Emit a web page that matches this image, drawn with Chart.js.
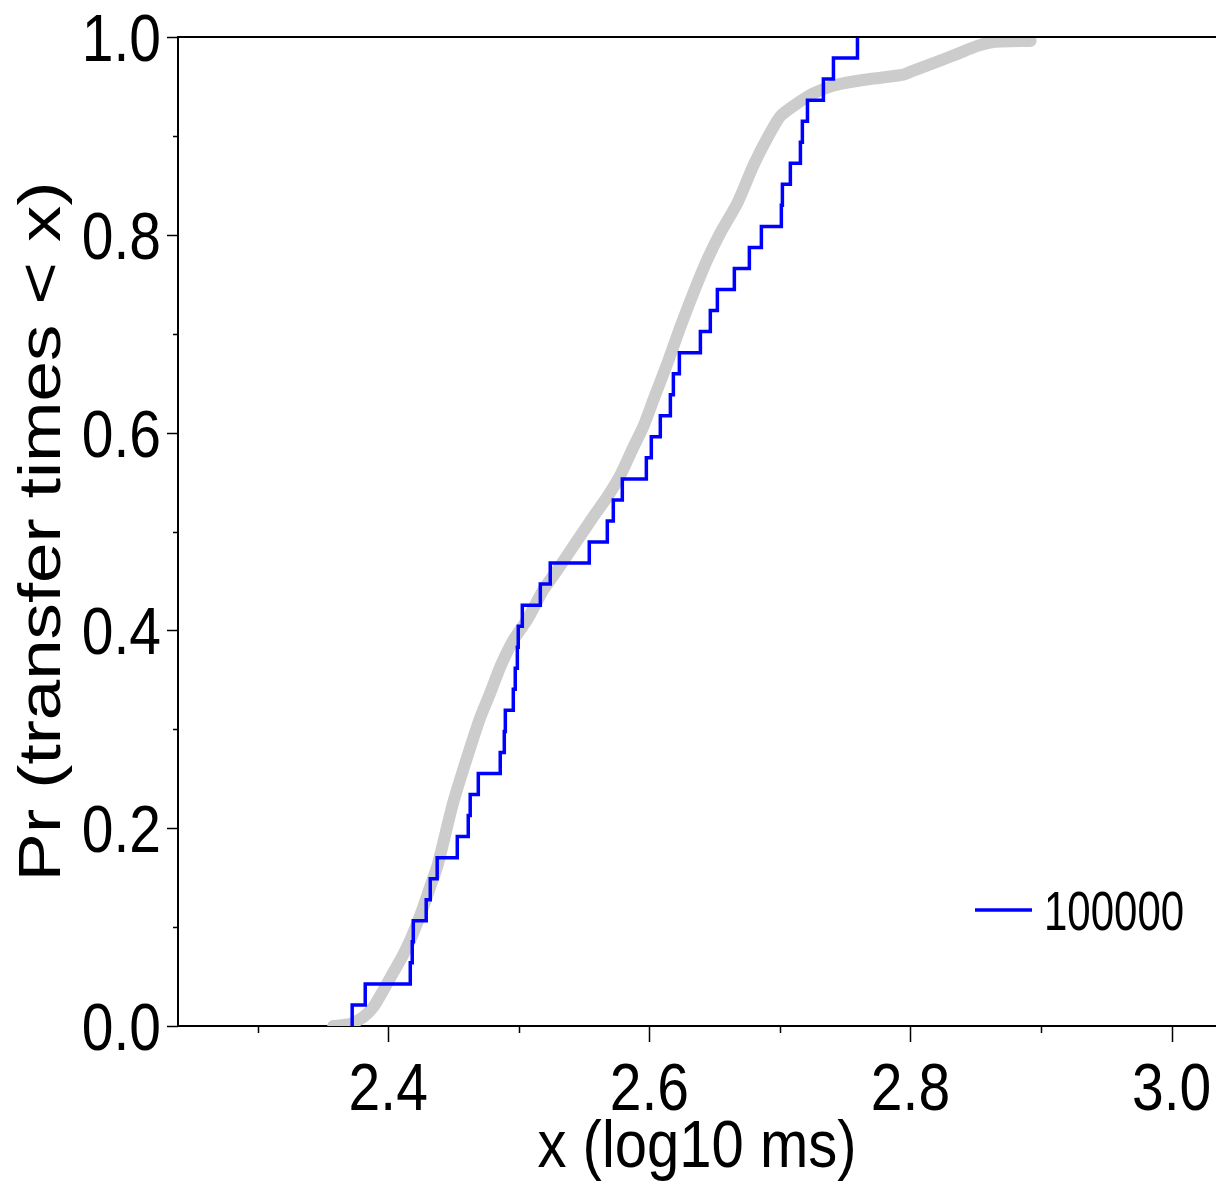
<!DOCTYPE html>
<html lang="fr">
<head>
<meta charset="utf-8">
<title>Pr (transfer times &lt; x)</title>
<script src="https://cdn.jsdelivr.net/npm/chart.js@4.4.0/dist/chart.umd.min.js"></script>
<style>
    html, body { margin: 0; padding: 0; background: #ffffff; }
    #wrap { width: 1216px; height: 1182px; }
</style>
</head>
<body>
<div id="wrap"><canvas id="cdfChart" width="1216" height="1182"></canvas></div>
<script>
// Échantillon "100000" (log10 ms), valeurs triées
const blueSample = [
    2.3724, 2.3824, 2.4169, 2.4184, 2.4192, 2.4291, 2.4322, 2.4375, 2.4529, 2.4613,
    2.4628, 2.4690, 2.4858, 2.4889, 2.4897, 2.4958, 2.4973, 2.4989, 2.4996, 2.5027,
    2.5165, 2.5241, 2.5540, 2.5678, 2.5724, 2.5793, 2.5977, 2.6015, 2.6084, 2.6161,
    2.6184, 2.6230, 2.6391, 2.6467, 2.6521, 2.6651, 2.6766, 2.6858, 2.7011, 2.7019,
    2.7080, 2.7157, 2.7172, 2.7211, 2.7333, 2.7410, 2.7594
];

// Courbe grise de référence
const greyX = [
    2.3579, 2.3709, 2.3808, 2.3885, 2.3962, 2.4038, 2.4107, 2.4169, 2.4222, 2.4268,
    2.4322, 2.4375, 2.4421, 2.4498, 2.4605, 2.4705, 2.4782, 2.4858, 2.4958, 2.5065,
    2.5188, 2.5295, 2.5448, 2.5571, 2.5678, 2.5778, 2.5877, 2.5954, 2.6031, 2.6138,
    2.6238, 2.6337, 2.6444, 2.6544, 2.6674, 2.6797, 2.6904, 2.7004, 2.7134, 2.7257,
    2.7410, 2.7563, 2.7716, 2.7946, 2.8023, 2.8207, 2.8360, 2.8513, 2.8636, 2.8920
];
const greyY = [
    0.000, 0.002, 0.009, 0.019, 0.036, 0.054, 0.070, 0.087, 0.104, 0.120,
    0.141, 0.161, 0.185, 0.226, 0.272, 0.312, 0.337, 0.363, 0.390, 0.411,
    0.441, 0.461, 0.491, 0.515, 0.535, 0.557, 0.585, 0.606, 0.633, 0.670,
    0.707, 0.741, 0.775, 0.802, 0.832, 0.870, 0.898, 0.920, 0.933, 0.943,
    0.951, 0.955, 0.958, 0.962, 0.966, 0.975, 0.983, 0.991, 0.995, 0.996
];

const xMajorTicks = [2.4, 2.6, 2.8, 3.0];
const xMinorTicks = [2.3, 2.5, 2.7, 2.9];
const xTickLabels = ['2.4', '2.6', '2.8', '3.0'];
const yMajorTicks = [0, 0.2, 0.4, 0.6, 0.8, 1.0];
const yMinorTicks = [0.1, 0.3, 0.5, 0.7, 0.9];
const yTickLabels = ['0.0', '0.2', '0.4', '0.6', '0.8', '1.0'];
const legendLabel = '100000';
const xTitle = 'x (log10 ms)';
const yTitle = 'Pr (transfer times < x)';

const FONT = '"Liberation Sans", Arial, sans-serif';

/**
 * Texte étiré (le graphique d'origine a des caractères plus hauts que larges)
 */
function drawText(ctx, text, x, y, size, sx, sy, align, rotate) {
    ctx.save();
    ctx.translate(x, y);
    if (rotate) {
        ctx.rotate(rotate);
    }
    ctx.scale(sx, sy);
    ctx.font = `${size}px ${FONT}`;
    ctx.textAlign = align;
    ctx.textBaseline = 'alphabetic';
    ctx.fillStyle = '#000000';
    ctx.fillText(text, 0, 0);
    ctx.restore();
}

// Points de la fonction de répartition en escalier
const bluePoints = [{ x: blueSample[0], y: 0 }];
blueSample.forEach((v, i) => {
    bluePoints.push({ x: v, y: (i + 1) / blueSample.length });
});
const greyPoints = greyX.map((v, i) => ({ x: v, y: greyY[i] }));

// Graduations, titres et légende
const decorPlugin = {
    id: 'decor',
    afterDraw(chart) {
        const { ctx, chartArea, scales } = chart;
        const xs = scales.x;
        const ys = scales.y;
        ctx.save();
        ctx.strokeStyle = '#000000';
        ctx.lineWidth = 2;

        // Ligne du haut
        ctx.beginPath();
        ctx.moveTo(chartArea.left, chartArea.top);
        ctx.lineTo(chartArea.right, chartArea.top);
        ctx.stroke();

        ctx.beginPath();
        for (const v of xMajorTicks) {
            const px = Math.round(xs.getPixelForValue(v)) + 0.5;
            ctx.moveTo(px, chartArea.bottom);
            ctx.lineTo(px, chartArea.bottom + 16);
        }
        for (const v of xMinorTicks) {
            const px = Math.round(xs.getPixelForValue(v)) + 0.5;
            ctx.moveTo(px, chartArea.bottom);
            ctx.lineTo(px, chartArea.bottom + 7);
        }
        for (const v of yMajorTicks) {
            const py = Math.round(ys.getPixelForValue(v)) + 0.5;
            ctx.moveTo(chartArea.left, py);
            ctx.lineTo(chartArea.left - 11, py);
        }
        for (const v of yMinorTicks) {
            const py = Math.round(ys.getPixelForValue(v)) + 0.5;
            ctx.moveTo(chartArea.left, py);
            ctx.lineTo(chartArea.left - 5, py);
        }
        ctx.lineWidth = 1.5;
        ctx.stroke();

        // Étiquettes des graduations
        xMajorTicks.forEach((v, i) => {
            drawText(ctx, xTickLabels[i], xs.getPixelForValue(v), 1110, 57, 1, 1.17, 'center');
        });
        yMajorTicks.forEach((v, i) => {
            drawText(ctx, yTickLabels[i], 161, ys.getPixelForValue(v) + 24, 57, 1, 1.17, 'right');
        });

        // Titres des axes
        drawText(ctx, xTitle, (chartArea.left + chartArea.right) / 2, 1167, 58, 1, 1.16, 'center');
        drawText(ctx, yTitle, 60, (chartArea.top + chartArea.bottom) / 2, 60, 1.21, 1, 'center', -Math.PI / 2);

        // Légende
        const ds = chart.data.datasets[0];
        const lx = chartArea.right - 241;
        const ly = chartArea.bottom - 116;
        ctx.strokeStyle = ds.borderColor;
        ctx.lineWidth = ds.borderWidth;
        ctx.beginPath();
        ctx.moveTo(lx, ly);
        ctx.lineTo(lx + 57, ly);
        ctx.stroke();
        drawText(ctx, legendLabel, lx + 69, ly + 20, 42, 1, 1.3, 'left');
        ctx.restore();
    }
};

const ctx = document.getElementById('cdfChart').getContext('2d');
new Chart(ctx, {
    type: 'line',
    data: {
        datasets: [
            {
                label: legendLabel,
                data: bluePoints,
                borderColor: '#0000ff',
                borderWidth: 3.5,
                stepped: true,
                pointRadius: 0,
                fill: false,
                order: 0
            },
            {
                label: 'reference',
                data: greyPoints,
                borderColor: '#cccccc',
                borderWidth: 12,
                borderCapStyle: 'round',
                borderJoinStyle: 'round',
                tension: 0.2,
                pointRadius: 0,
                fill: false,
                order: 1
            }
        ]
    },
    options: {
        responsive: false,
        animation: false,
        events: [],
        layout: { padding: { top: 37, right: 0, left: 0, bottom: 0 } },
        plugins: {
            legend: { display: false },
            tooltip: { enabled: false }
        },
        scales: {
            x: {
                type: 'linear',
                min: 2.239,
                max: 3.034,
                grid: { display: false },
                ticks: { display: false },
                border: { display: true, color: '#000000', width: 2 },
                afterFit(scale) { scale.height = 156; }
            },
            y: {
                type: 'linear',
                min: 0,
                max: 1,
                grid: { display: false },
                ticks: { display: false },
                border: { display: true, color: '#000000', width: 2 },
                afterFit(scale) { scale.width = 178; }
            }
        }
    },
    plugins: [decorPlugin]
});
</script>
</body>
</html>
